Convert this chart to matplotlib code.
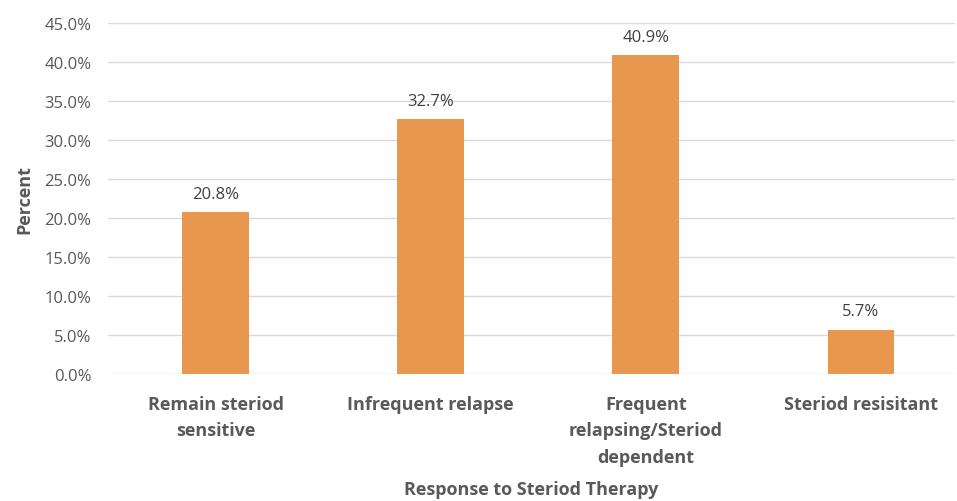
import matplotlib
matplotlib.use("Agg")
import matplotlib.pyplot as plt
from matplotlib.ticker import PercentFormatter

categories = ["Remain steriod\nsensitive", "Infrequent relapse",
              "Frequent\nrelapsing/Steriod\ndependent", "Steriod resisitant"]
values = [20.8, 32.7, 40.9, 5.7]
yticks = [0, 5, 10, 15, 20, 25, 30, 35, 40, 45]

plt.rcParams['font.family'] = ['Open Sans', 'DejaVu Sans']
grey = '#595959'

fig = plt.figure(figsize=(9.57, 5.02), dpi=100)
ax = fig.add_axes([108/957, 127/502, 847/957, 351/502])

x = range(len(categories))
bars = ax.bar(x, values, width=0.31, color='#E9974F', zorder=3)
for xi, v in zip(x, values):
    ax.text(xi, v + 1.3, f"{v:.1f}%", ha='center', va='bottom', fontsize=12, color='#404040')

ax.set_xlim(-0.5, 3 + 94/215)
ax.set_ylim(0, 45)
ax.set_yticks(yticks)
ax.yaxis.set_major_formatter(PercentFormatter(decimals=1))
ax.set_xticks(list(x))
ax.set_xticklabels(categories, fontsize=13, fontweight='bold', color=grey, linespacing=1.6)
ax.tick_params(axis='y', labelsize=12, labelcolor=grey, length=0, pad=12)
ax.tick_params(axis='x', length=0, pad=15)
ax.grid(axis='y', color='#D9D9D9', linewidth=1, zorder=0)
for s in ax.spines.values():
    s.set_visible(False)

ax.set_ylabel("Percent", fontsize=13, fontweight='bold', color=grey, labelpad=8)
ax.set_xlabel("Response to Steriod Therapy", fontsize=13, fontweight='bold', color=grey, labelpad=10)

fig.savefig("out.png", dpi=100)
